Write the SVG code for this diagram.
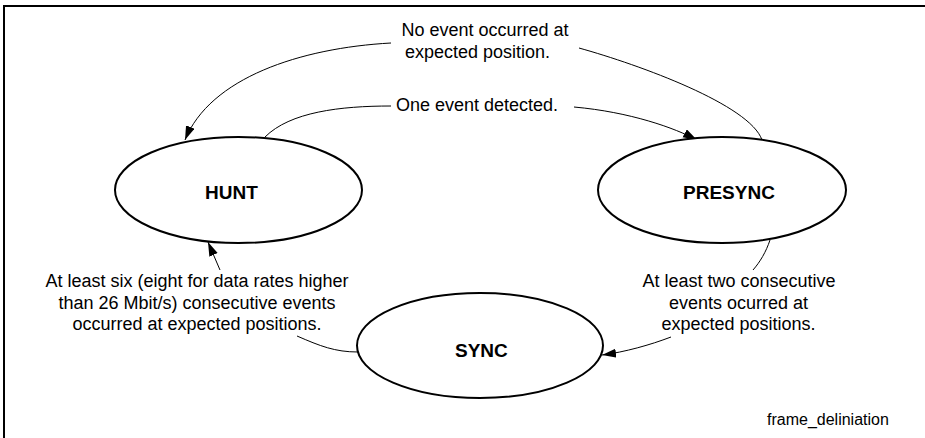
<svg xmlns="http://www.w3.org/2000/svg" width="925" height="438" viewBox="0 0 925 438">
<defs>
<marker id="ah" markerUnits="userSpaceOnUse" markerWidth="16" markerHeight="12" refX="14" refY="4.5" orient="auto">
<path d="M0,0 L14,4.5 L0,9 z" fill="#000"/>
</marker>
<style>
.st{fill:#fff;stroke:#000;stroke-width:2}
.nl{font-family:"Liberation Sans",Arial,sans-serif;font-size:19px;font-weight:bold;fill:#000}
.lb{font-family:"Liberation Sans",Arial,sans-serif;font-size:18px;fill:#000;text-anchor:middle}
.cn{fill:none;stroke:#000;stroke-width:1}
</style>
</defs>
<rect width="925" height="438" fill="#fff"/>
<path d="M4,438 L4,6 L925,6" fill="none" stroke="#000" stroke-width="2"/>
<g id="connectors">
<path class="cn" d="M391,43 C300,48 210,78 185,140" marker-end="url(#ah)"/>
<path class="cn" d="M579,48 C640,65 750,105 762,140"/>
<path class="cn" d="M265,137 C290,112 340,106 391,106"/>
<path class="cn" d="M574,107 C630,112 675,128 697,140" marker-end="url(#ah)"/>
<path class="cn" d="M358,352 C335,352 320,346 297,336"/>
<path class="cn" d="M220,270 L208,242" marker-end="url(#ah)"/>
<path class="cn" d="M770,240 C766,252 760,262 753,270"/>
<path class="cn" d="M671,337 C650,345 625,352 602,355" marker-end="url(#ah)"/>
</g>
<g id="hunt">
<ellipse class="st" cx="238.5" cy="190" rx="123.5" ry="53"/>
<text class="nl" x="205" y="199">HUNT</text>
</g>
<g id="presync">
<ellipse class="st" cx="722" cy="190" rx="124" ry="53"/>
<text class="nl" x="683" y="199">PRESYNC</text>
</g>
<g id="sync">
<ellipse class="st" cx="480" cy="345.5" rx="123" ry="52.5"/>
<text class="nl" x="455" y="357">SYNC</text>
</g>
<g id="labels">
<text class="lb" x="485" y="36">No event occurred at</text>
<text class="lb" x="477.5" y="58">expected position.</text>
<text class="lb" x="477" y="111">One event detected.</text>
<text class="lb" x="197" y="287">At least six (eight for data rates higher</text>
<text class="lb" x="197" y="309">than 26 Mbit/s) consecutive events</text>
<text class="lb" x="197" y="330">occurred at expected positions.</text>
<text class="lb" x="739" y="287">At least two consecutive</text>
<text class="lb" x="738.5" y="309">events ocurred at</text>
<text class="lb" x="738.5" y="330">expected positions.</text>
<text x="767" y="425" style="font-family:'Liberation Sans',Arial,sans-serif;font-size:16px;fill:#000">frame_deliniation</text>
</g>
</svg>
